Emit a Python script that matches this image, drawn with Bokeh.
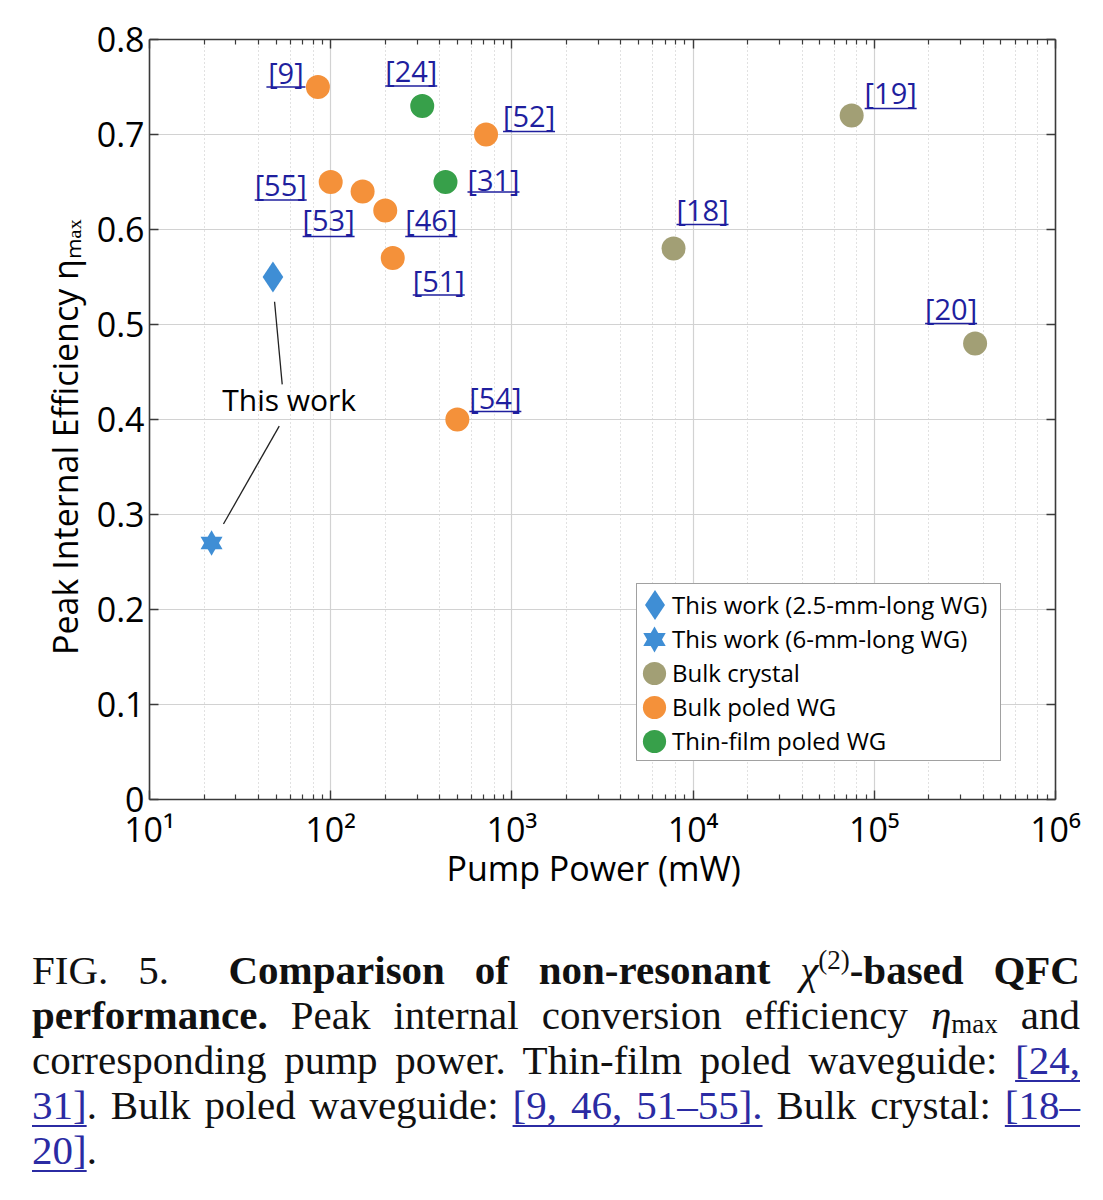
from bokeh.plotting import figure
from bokeh.models import (LogAxis, LinearAxis, FixedTicker, LogTicker, Legend,
                          LegendItem, ColumnDataSource, Div, Range1d)
from bokeh.layouts import column
from bokeh.core.properties import value
from bokeh.embed import file_html
from bokeh.resources import INLINE

FONT = "Open Sans"

# ---------------- data ----------------
work_labels = ["This work (2.5-mm-long WG)", "This work (6-mm-long WG)"]
work_power = [48, 22]
work_eff = [0.55, 0.27]

bulk_crystal_refs = ["[18]", "[19]", "[20]"]
bulk_crystal_power = [7800, 75000, 360000]
bulk_crystal_eff = [0.58, 0.72, 0.48]

bulk_poled_refs = ["[9]", "[52]", "[55]", "[53]", "[46]", "[51]", "[54]"]
bulk_poled_power = [85, 720, 100, 150, 200, 220, 500]
bulk_poled_eff = [0.75, 0.70, 0.65, 0.64, 0.62, 0.57, 0.40]

thin_film_refs = ["[24]", "[31]"]
thin_film_power = [320, 430]
thin_film_eff = [0.73, 0.65]

series_labels = ["Bulk crystal", "Bulk poled WG", "Thin-film poled WG"]

x_ticks = [10, 100, 1000, 10000, 100000, 1000000]
x_tick_labels = ["10\u00b9", "10\u00b2", "10\u00b3", "10\u2074", "10\u2075", "10\u2076"]
y_ticks = [0, 0.1, 0.2, 0.3, 0.4, 0.5, 0.6, 0.7, 0.8]
y_tick_labels = ["0", "0.1", "0.2", "0.3", "0.4", "0.5", "0.6", "0.7", "0.8"]

annot_text = "This work"
annot_x = 59
annot_y = 0.421
leader_x0 = [49, 52]
leader_y0 = [0.524, 0.393]
leader_x1 = [54, 25.6]
leader_y1 = [0.437, 0.29]

# ---------------- styles / layout ----------------
C_BLUE = "#3f8ed5"
C_OLIVE = "#a29f75"
C_ORANGE = "#f4913a"
C_GREEN = "#37a04a"
C_REF = "#1f1f9e"

FRAME_W, FRAME_H = 906, 760
PPD = FRAME_W / 5.0        # pixels per decade
PPU = FRAME_H / 0.8        # pixels per unit of efficiency

# label offsets (px): dx, dy of label centre from the point, dy of underline
label_offsets = {
    "[9]": (-32, -15, 0), "[24]": (-11, -36, -20), "[52]": (43, -19, -3),
    "[55]": (-50, 2, 18), "[53]": (-34, 28, 45), "[46]": (46, 9, 26),
    "[31]": (48, -3, 10), "[51]": (46, 22, 37), "[54]": (38, -22, -8),
    "[18]": (29, -39, -24), "[19]": (39, -23, -7), "[20]": (-24, -35, -20),
}

p = figure(x_axis_type="log", x_range=Range1d(10, 1e6), y_range=Range1d(0, 0.8),
           output_backend="svg", toolbar_location=None,
           frame_width=FRAME_W, frame_height=FRAME_H,
           min_border_left=149, min_border_right=39, min_border_top=39,
           min_border_bottom=100, outline_line_color=None,
           background_fill_color="white", border_fill_color="white")

# grids
p.xgrid.grid_line_color = "#d2d2d2"
p.xgrid.grid_line_width = 1.2
p.xgrid.minor_grid_line_color = "#c4c4c4"
p.xgrid.minor_grid_line_dash = "1 3"
p.xgrid.minor_grid_line_width = 1.1
p.ygrid.grid_line_color = "#d2d2d2"
p.ygrid.grid_line_width = 1.2
p.xgrid.ticker = LogTicker()
p.ygrid.ticker = FixedTicker(ticks=y_ticks)

AX = "#3a3a3a"
MINOR_X = [m * 10 ** e for e in range(1, 6) for m in range(2, 10)]

def style_axis(ax, show_labels):
    ax.axis_line_color = AX
    ax.axis_line_width = 1.6
    ax.major_tick_line_color = AX
    ax.major_tick_line_width = 1.4
    ax.minor_tick_line_color = AX
    ax.minor_tick_line_width = 1.2
    ax.major_tick_in = 9
    ax.major_tick_out = 0
    ax.minor_tick_in = 5
    ax.minor_tick_out = 0
    ax.major_label_text_font = FONT
    ax.major_label_text_color = "black"
    ax.axis_label_text_font = FONT
    ax.axis_label_text_font_style = "normal"
    ax.axis_label_text_color = "black"
    if not show_labels:
        ax.major_label_text_font_size = "1px"
        ax.major_label_text_alpha = 0
        ax.major_label_standoff = 0

xa = p.xaxis[0]
xa.ticker = FixedTicker(ticks=x_ticks, minor_ticks=MINOR_X)
xa.major_label_overrides = {t: l for t, l in zip(x_ticks, x_tick_labels)}
style_axis(xa, True)
xa.major_label_text_font_size = "34px"
xa.major_label_standoff = 6
xa.axis_label = "Pump Power (mW)\u00a0\u00a0"
xa.axis_label_text_font_size = "34px"
xa.axis_label_standoff = -10

ya = p.yaxis[0]
ya.ticker = FixedTicker(ticks=y_ticks)
ya.major_label_overrides = {t: l for t, l in zip(y_ticks, y_tick_labels)}
style_axis(ya, True)
ya.minor_tick_in = 0
ya.major_label_text_font_size = "34px"
ya.major_label_standoff = 5
ya.axis_label = "Peak Internal Efficiency  \u03b7\u2098\u2090\u2093\u00a0\u00a0\u00a0"
ya.axis_label_text_font_size = "34px"
ya.axis_label_standoff = 6

top = LogAxis(ticker=FixedTicker(ticks=x_ticks, minor_ticks=MINOR_X))
style_axis(top, False)
p.add_layout(top, "above")
right = LinearAxis(ticker=FixedTicker(ticks=y_ticks))
style_axis(right, False)
right.minor_tick_in = 0
p.add_layout(right, "right")

# leader lines and annotation
p.segment(x0=leader_x0, y0=leader_y0, x1=leader_x1, y1=leader_y1,
          line_color="#222222", line_width=1.3)
p.text(x=[annot_x], y=[annot_y], text=[annot_text], text_font=value(FONT),
       text_font_size="30px", text_align="center", text_baseline="middle",
       text_color="black")

# markers
r_dia = p.scatter(x=work_power[:1], y=work_eff[:1], marker="diamond", size=31,
                  fill_color=C_BLUE, line_color=None)
r_up = p.scatter(x=work_power[1:], y=work_eff[1:], marker="triangle", size=22,
                 fill_color=C_BLUE, line_color=None)
r_dn = p.scatter(x=work_power[1:], y=work_eff[1:], marker="inverted_triangle", size=22,
                 fill_color=C_BLUE, line_color=None)
r_bc = p.scatter(x=bulk_crystal_power, y=bulk_crystal_eff, marker="circle", size=24,
                 fill_color=C_OLIVE, line_color=None)
r_bp = p.scatter(x=bulk_poled_power, y=bulk_poled_eff, marker="circle", size=24,
                 fill_color=C_ORANGE, line_color=None)
r_tf = p.scatter(x=thin_film_power, y=thin_film_eff, marker="circle", size=24,
                 fill_color=C_GREEN, line_color=None)

# reference labels with underlines
refs = bulk_crystal_refs + bulk_poled_refs + thin_film_refs
rx = bulk_crystal_power + bulk_poled_power + thin_film_power
ry = bulk_crystal_eff + bulk_poled_eff + thin_film_eff
dx = [label_offsets[r][0] for r in refs]
dy = [label_offsets[r][1] for r in refs]
src = ColumnDataSource(dict(x=rx, y=ry, text=refs, dx=dx, dy=dy))
p.text(x="x", y="y", text="text", x_offset="dx", y_offset="dy", source=src,
       text_font=value(FONT), text_font_size="29px", text_align="center",
       text_baseline="middle", text_color=C_REF)
ux0, ux1, uy = [], [], []
for r, xv, yv in zip(refs, rx, ry):
    odx, ody, udy = label_offsets[r]
    w = 13 * len(r)
    ux0.append(xv * 10 ** ((odx - w / 2) / PPD))
    ux1.append(xv * 10 ** ((odx + w / 2) / PPD))
    uy.append(yv - udy / PPU)
p.segment(x0=ux0, y0=uy, x1=ux1, y1=uy, line_color=C_REF, line_width=1.6)

# main legend (box + labels)
legend_renderers = [[r_dia], [r_up, r_dn], [r_bc], [r_bp], [r_tf]]
legend_labels = work_labels + series_labels
legend_big = [75, 56, 58, 58, 58]   # glyph box of the enlarged legend markers
LEG_X, LEG_BOTTOM, LEG_PAD, ROW_H, GLYPH_W = 487, 38, 3, 34, 30
legend = Legend(items=[LegendItem(label=l, renderers=r)
                       for l, r in zip(legend_labels, legend_renderers)],
                location=(LEG_X, LEG_BOTTOM))
legend.label_text_font = FONT
legend.label_text_font_size = "24px"
legend.label_text_color = "black"
legend.margin = 0
legend.padding = LEG_PAD
legend.spacing = 0
legend.glyph_height = ROW_H
legend.glyph_width = GLYPH_W
legend.label_height = ROW_H
legend.label_width = 325
legend.label_standoff = 2
legend.border_line_color = "#444444"
legend.border_line_width = 1.5
legend.background_fill_alpha = 1
p.add_layout(legend)

# larger legend markers: glyph-only legends stacked over the main legend's glyphs
n_rows = len(legend_labels)
for i, (r, big) in enumerate(zip(legend_renderers, legend_big)):
    cx = LEG_X + LEG_PAD + GLYPH_W // 2
    row_from_bottom = n_rows - 1 - i
    cy = LEG_BOTTOM + LEG_PAD + row_from_bottom * ROW_H + ROW_H // 2
    g = Legend(items=[LegendItem(label=" ", renderers=r)],
               location=(cx - big // 2, cy - big // 2))
    g.glyph_width = big
    g.glyph_height = big
    g.label_width = 0
    g.label_height = 0
    g.label_standoff = 0
    g.label_text_font_size = "1px"
    g.label_text_alpha = 0
    g.padding = 0
    g.margin = 0
    g.spacing = 0
    g.border_line_color = None
    g.background_fill_alpha = 0
    p.add_layout(g)

REF = "color:#2b2ba3;text-decoration:underline;text-underline-offset:6px;text-decoration-thickness:1.5px"
line_style = "text-align:justify;text-align-last:justify;white-space:nowrap;height:45px"
caption = (
    '<div style="font-family:\'Liberation Serif\',\'DejaVu Serif\',serif;font-size:41px;'
    'line-height:45px;color:#111;width:1048px">'
    f'<div style="{line_style}">FIG. 5.&nbsp; <b>Comparison of non-resonant</b> <i>\u03c7</i>'
    '<sup style="font-size:27px;line-height:0">(2)</sup><b>-based QFC</b></div>'
    f'<div style="{line_style}"><b>performance.</b> Peak internal conversion efficiency '
    '<i>\u03b7</i><span style="font-size:27px;line-height:0;vertical-align:-4px">max</span> and</div>'
    f'<div style="{line_style}">corresponding pump power. Thin-film poled waveguide: '
    f'<span style="{REF}">[24,</span></div>'
    f'<div style="{line_style}"><span style="{REF}">31]</span>. Bulk poled waveguide: '
    f'<span style="{REF}">[9, 46, 51\u201355].</span> Bulk crystal: <span style="{REF}">[18\u2013</span></div>'
    f'<div style="height:45px"><span style="{REF}">20]</span>.</div>'
    '</div>'
)
div = Div(text=caption, width=1048, margin=(49, 0, 0, 32))

layout = column(p, div, spacing=0)
open("out.html", "w").write(file_html(layout, INLINE))
